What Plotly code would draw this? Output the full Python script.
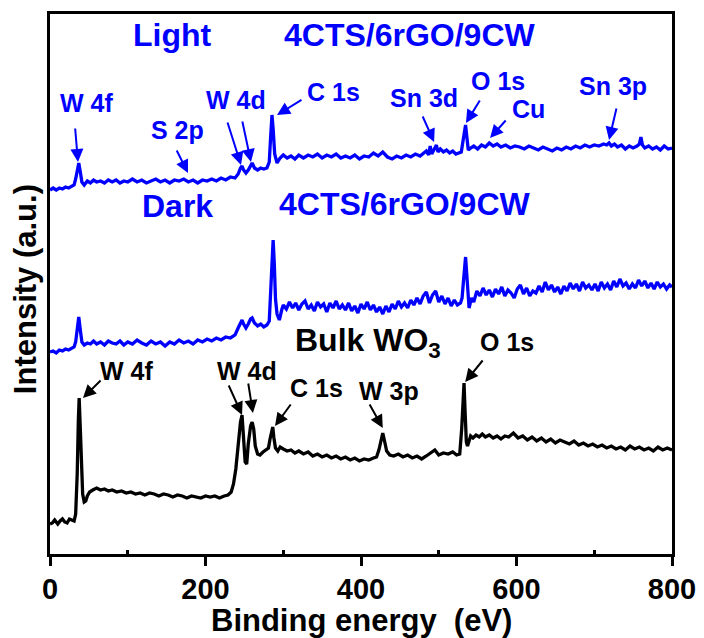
import plotly.graph_objects as go

# ---------------- data (binding energy eV, intensity a.u. offset) ----------------
LIGHT = [(0,364),(4,366),(8,364),(12,366),(16,365),(20,367),(24,366),(28,368),(31,369),(33,375),(35,385),(37,391),(39,382),(41,372),(44,369),(48,373),(52,371),(56,374),(60,372),(65,373),(70,371),(75,374),(80,372),(85,374),(90,371),(95,373),(100,372),(106,375),(112,372),(118,374),(124,371),(130,373),(136,375),(142,372),(148,374),(154,371),(160,374),(166,373),(172,375),(178,372),(184,374),(190,371),(196,374),(202,373),(208,375),(214,373),(220,376),(226,374),(232,377),(238,376),(242,380),(245,386),(247,388),(249,384),(252,381),(255,384),(258,389),(260,391),(263,386),(267,384),(271,386),(275,385),(279,386),(282,392),(284,420),(285.5,439),(287,425),(289,400),(292,391),(296,396),(300,399),(305,396),(310,398),(315,395),(320,399),(326,396),(332,399),(338,397),(344,400),(350,396),(356,399),(362,397),(368,400),(374,396),(380,398),(386,396),(392,399),(398,395),(404,398),(410,397),(416,401),(422,398),(428,402),(434,397),(440,395),(446,398),(452,396),(458,399),(464,397),(470,400),(476,398),(480,401),(484,403),(487,399),(489,408),(491,400),(494,404),(497,409),(499,402),(502,405),(506,402),(510,404),(514,401),(518,403),(522,400),(526,401),(529,402),(531,412),(533,425),(534.5,429),(536,418),(538,404),(541,406),(545,408),(550,405),(555,409),(560,407),(565,411),(570,408),(575,410),(580,407),(586,409),(592,406),(598,408),(604,407),(610,405),(616,408),(622,406),(628,404),(634,407),(640,405),(646,403),(652,406),(658,404),(664,407),(670,405),(676,408),(682,406),(688,409),(694,407),(700,409),(706,408),(712,410),(716,409),(719,411),(722,408),(726,410),(730,407),(735,409),(740,405),(745,408),(750,406),(755,408),(758,410),(760,417),(762,409),(765,406),(770,408),(775,405),(780,407),(785,404),(790,408),(795,405),(800,406)]

DARK = [(0,202),(4,203),(8,201),(12,204),(16,203),(20,205),(24,204),(28,206),(31,207),(33,212),(35,226),(37,237),(39,224),(41,212),(44,209),(48,211),(52,210),(56,213),(60,210),(65,212),(70,209),(75,213),(80,211),(85,210),(90,213),(95,209),(100,212),(106,210),(112,214),(118,211),(124,209),(130,213),(136,210),(142,212),(148,208),(154,212),(160,210),(166,214),(172,211),(178,213),(184,210),(190,214),(196,212),(202,215),(208,213),(214,216),(220,214),(226,217),(232,216),(238,219),(242,226),(245,232),(247,234),(249,230),(252,226),(255,230),(258,235),(260,236),(263,231),(267,228),(271,230),(275,227),(279,229),(282,233),(284,270),(285.5,300),(287,314),(288.5,290),(290,255),(292,240),(295,234),(298,244),
        (300,249),(304,245),(308,252),(312,246),(316,251),(320,244),(324,250),(328,253),(332,245),(336,249),(340,243),(344,252),(348,247),(352,250),(356,242),(360,251),(364,246),(368,253),(372,245),(376,249),(380,244),(384,251),(388,243),(392,248),(396,241),(400,250),(404,245),(408,252),(412,244),(416,249),(420,242),(424,247),(428,240),(432,248),(436,242),(440,250),(444,245),(448,253),(452,247),(456,251),(460,246),(464,254),(468,249),(472,256),(476,250),(480,258),(484,262),(488,251),(492,259),(496,263),(500,252),(504,258),(508,250),(512,256),(516,248),(520,254),(524,249),(528,251),
        (530,256),(531.5,270),(533,290),(534.5,297),(536,280),(537.5,258),(539,246),(542,256),
        (545,252),(549,263),(553,258),(557,266),(561,259),(565,264),(569,257),(573,265),(577,260),(581,267),(585,258),(589,264),(593,261),(597,256),(601,265),(605,269),(609,260),(613,266),(617,258),(621,263),(625,261),(629,268),(633,262),(637,272),(641,264),(645,269),(649,262),(653,267),(657,260),(661,268),(665,263),(669,271),(673,265),(677,270),(681,263),(685,272),(689,266),(693,269),(697,264),(701,270),(705,263),(709,272),(713,266),(717,270),(721,264),(725,273),(729,267),(733,275),(737,268),(741,271),(745,265),(749,270),(753,266),(757,274),(761,268),(765,273),(769,266),(773,271),(777,265),(781,272),(785,267),(789,270),(793,265),(797,269),(800,267)]

BULK = [(0,30),(3,31),(6,34),(10,30),(13,33),(16,35),(19,32),(22,31),(25,35),(28,34),(31,33),(33,40),(35,80),(36.5,135),(37.5,156),(39,125),(40.5,80),(42,60),(44,52),(46,53),(48,58),(51,62),(55,64),(60,66),(65,64),(70,65),(75,63),(80,64),(86,62),(92,63),(98,61),(104,62),(110,60),(116,61),(122,59),(128,61),(134,60),(140,58),(146,60),(152,59),(158,57),(164,59),(170,58),(176,56),(182,58),(188,57),(194,56),(200,58),(206,57),(212,58),(218,56),(224,58),(229,59),(233,62),(236,70),(239,85),(242,110),(245,132),(247,139),(249,118),(251,92),(253,90),(255,110),(258,128),(260,132),(262,125),(264,108),(267,100),(270,99),(274,102),(278,104),(281,106),(283,115),(285,124),(286.5,127),(288,116),(290,106),(293,103),(296,107),(300,105),(305,103),(310,104),(315,101),(320,103),(326,100),(332,102),(338,98),(344,100),(350,97),(356,99),(362,96),(368,98),(374,95),(380,97),(386,94),(392,96),(398,93),(404,95),(410,94),(416,96),(420,97),(423,104),(426,116),(428,121),(430,114),(433,103),(437,99),(442,98),(448,100),(454,97),(460,99),(466,96),(472,98),(478,95),(484,98),(490,101),(495,104),(500,99),(506,101),(512,100),(518,102),(523,99),(527,100),(529.5,125),(531,160),(532.5,171),(534,140),(535.5,112),(537,108),(539,113),(541,118),(544,116),(548,119),(552,117),(556,120),(560,117),(565,119),(570,116),(575,118),(580,115),(585,118),(590,117),(596,121),(602,116),(608,118),(614,114),(620,117),(626,113),(632,116),(638,112),(644,115),(650,111),(656,114),(662,112),(668,110),(674,113),(680,109),(686,111),(692,108),(698,110),(704,107),(710,109),(716,106),(722,108),(728,105),(734,107),(740,104),(746,108),(752,105),(758,107),(764,104),(770,106),(776,103),(782,107),(788,104),(794,106),(800,104)]

X_TICKS = [0, 200, 400, 600, 800]
X_MINOR = [100, 300, 500, 700]
X_TITLE = "Binding energy  (eV)"
Y_TITLE = "Intensity (a.u.)"

BLUE = "#0000FF"
BLACK = "#000000"
FONT = "Liberation Sans, Arial, sans-serif"

# labels: (text, x, y, size, color, xanchor)
LABELS = [
    ("Light", 158, 519, 32, BLUE, "center"),
    ("4CTS/6rGO/9CW", 463, 519, 32, BLUE, "center"),
    ("Dark", 164.6, 348, 32, BLUE, "center"),
    ("4CTS/6rGO/9CW", 457, 350, 32, BLUE, "center"),
    ("W 4f", 46.3, 451, 25, BLUE, "center"),
    ("S 2p", 164.6, 424, 25, BLUE, "center"),
    ("W 4d", 239, 454, 25, BLUE, "center"),
    ("C 1s", 365, 462, 25, BLUE, "center"),
    ("Sn 3d", 481, 456, 25, BLUE, "center"),
    ("O 1s", 576, 473, 25, BLUE, "center"),
    ("Cu", 616, 445, 25, BLUE, "center"),
    ("Sn 3p", 724, 468, 25, BLUE, "center"),
    ("Bulk WO<sub>3</sub>", 312.5, 212, 32, BLACK, "left"),
    ("O 1s", 588, 212, 25, BLACK, "center"),
    ("C 1s", 343, 166, 25, BLACK, "center"),
    ("W 3p", 436, 163, 25, BLACK, "center"),
    ("W 4f", 99, 183, 25, BLACK, "center"),
    ("W 4d", 253, 183, 25, BLACK, "center"),
]

# arrows: (tail_x, tail_y, head_x, head_y, color)
ARROWS = [
    (32.2, 427, 36, 392, BLUE),
    (162, 405, 177.5, 381, BLUE),
    (227.7, 433, 245.7, 389, BLUE),
    (247, 434, 258.5, 392, BLUE),
    (325.4, 455, 292, 439, BLUE),
    (478.5, 439, 494, 412, BLUE),
    (554, 455, 535, 431, BLUE),
    (587.8, 435, 566, 416, BLUE),
    (729, 447, 719, 414, BLUE),
    (67, 175, 42.4, 156, BLACK),
    (229, 170, 247, 139, BLACK),
    (254.7, 172, 261, 141, BLACK),
    (311, 151, 289.4, 128, BLACK),
    (410, 151, 428, 126, BLACK),
    (558, 195, 534, 172, BLACK),
]

fig = go.Figure()
for data, color in [(BULK, BLACK), (DARK, BLUE), (LIGHT, BLUE)]:
    xs, ys = zip(*data)
    fig.add_trace(go.Scatter(x=list(xs), y=list(ys), mode="lines",
                             line=dict(color=color, width=3.3), showlegend=False))

ann = []
for text, x, y, size, color, xa in LABELS:
    ann.append(dict(x=x, y=y, xref="x", yref="y", text="<b>" + text + "</b>",
                    showarrow=False, xanchor=xa, yanchor="middle",
                    font=dict(family=FONT, size=size, color=color)))
for tx, ty, hx, hy, color in ARROWS:
    ann.append(dict(x=hx, y=hy, ax=tx, ay=ty, xref="x", yref="y", axref="x", ayref="y",
                    text="", showarrow=True, arrowhead=2, arrowsize=1.3, arrowwidth=2,
                    arrowcolor=color, standoff=0, startstandoff=0))

# axis titles as rotated / centred text
ann.append(dict(x=-0.039, y=0.49, xref="paper", yref="paper", text="<b>" + Y_TITLE + "</b>",
                textangle=-90, showarrow=False, xanchor="center", yanchor="middle",
                font=dict(family=FONT, size=31, color="black")))
ann.append(dict(x=0.5, y=-0.124, xref="paper", yref="paper", text="<b>" + X_TITLE + "</b>",
                showarrow=False, xanchor="center", yanchor="middle",
                font=dict(family=FONT, size=31, color="black")))

fig.update_layout(
    width=704, height=638,
    margin=dict(l=50, r=32, t=14, b=84, autoexpand=False),
    paper_bgcolor="white", plot_bgcolor="white",
    font=dict(family=FONT, color="black"),
    annotations=ann,
    xaxis=dict(range=[0, 800], tickvals=X_TICKS, ticktext=["<b>%d</b>" % v for v in X_TICKS],
               ticks="outside", ticklen=9, tickwidth=2.5, tickcolor="black",
               ticklabelstandoff=-2,
               minor=dict(tickvals=X_MINOR, ticks="inside", ticklen=4, tickwidth=2.5, tickcolor="black"),
               showline=True, linecolor="black", linewidth=3, mirror=True,
               showgrid=False, zeroline=False, automargin=False,
               tickfont=dict(family=FONT, size=29, color="black")),
    yaxis=dict(range=[0, 540], showticklabels=False, ticks="",
               showline=True, linecolor="black", linewidth=3, mirror=True,
               showgrid=False, zeroline=False, automargin=False),
)

fig.write_html("out.html")
